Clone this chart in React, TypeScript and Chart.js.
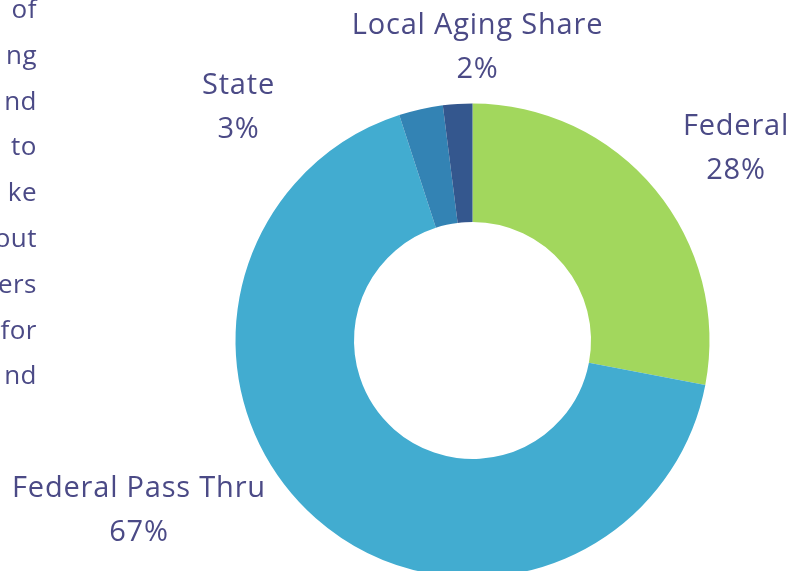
import React, { useEffect, useRef } from "react";
import { Chart, registerables } from "chart.js";

Chart.register(...registerables);

const categories = ["Federal", "Federal Pass Thru", "State", "Local Aging Share"];
const shares = [28, 67, 3, 2];
const sliceColors = ["#a2d75d", "#42acd0", "#3383b4", "#34578e"];
// label anchor offsets (relative to doughnut centre), first-line baseline
const labelOffsets: [number, number][] = [
  [263.5, -206],
  [-333.5, 156],
  [-234, -247],
  [5, -307],
];
const sideText = ["of", "ng", "nd", "to", "ke", "out", "ers", "for", "nd"];

const TEXT_COLOR = "#4b4a86";
const FONT = "'Open Sans', Lato, sans-serif";

const labelPlugin = {
  id: "outerLabels",
  afterDraw(chart: any) {
    const meta = chart.getDatasetMeta(0);
    if (!meta.data.length) return;
    const arc = meta.data[0];
    const cx = arc.x;
    const cy = arc.y;
    const ctx = chart.ctx;
    ctx.save();
    ctx.fillStyle = TEXT_COLOR;
    ctx.font = `29px ${FONT}`;
    try {
      (ctx as any).letterSpacing = "0.8px";
    } catch (e) {}
    ctx.textAlign = "center";
    ctx.textBaseline = "alphabetic";
    const data = chart.data.datasets[0].data as number[];
    chart.data.labels.forEach((lab: string, i: number) => {
      const [dx, dy] = labelOffsets[i];
      ctx.fillText(lab, cx + dx, cy + dy);
      ctx.fillText(`${data[i]}%`, cx + dx, cy + dy + 44);
    });
    ctx.restore();
  },
};

export default function App() {
  const ref = useRef<HTMLCanvasElement>(null);
  useEffect(() => {
    if (!ref.current) return;
    const chart = new Chart(ref.current, {
      type: "doughnut",
      data: {
        labels: categories,
        datasets: [
          {
            data: shares,
            backgroundColor: sliceColors,
            borderWidth: 0,
          },
        ],
      },
      options: {
        animation: false,
        responsive: false,
        cutout: "50%",
        layout: {
          padding: { left: 235.5, right: 94.5, top: 103.5, bottom: 122.5 },
        },
        plugins: {
          legend: { display: false },
          tooltip: { enabled: false },
        },
      },
      plugins: [labelPlugin],
    });
    return () => chart.destroy();
  }, []);

  return (
    <div
      style={{
        position: "fixed",
        left: 0,
        top: 0,
        width: 804,
        height: 571,
        overflow: "hidden",
        background: "#ffffff",
      }}
    >
      <canvas ref={ref} width={804} height={700} style={{ position: "absolute", left: 0, top: 0 }} />
      <div
        style={{
          position: "absolute",
          right: 804 - 37,
          top: -14,
          textAlign: "right",
          fontFamily: FONT,
          fontSize: 26,
          letterSpacing: "0.5px",
          lineHeight: "45.8px",
          color: TEXT_COLOR,
          whiteSpace: "nowrap",
        }}
      >
        {sideText.map((t, i) => (
          <div key={i}>{t}</div>
        ))}
      </div>
    </div>
  );
}
